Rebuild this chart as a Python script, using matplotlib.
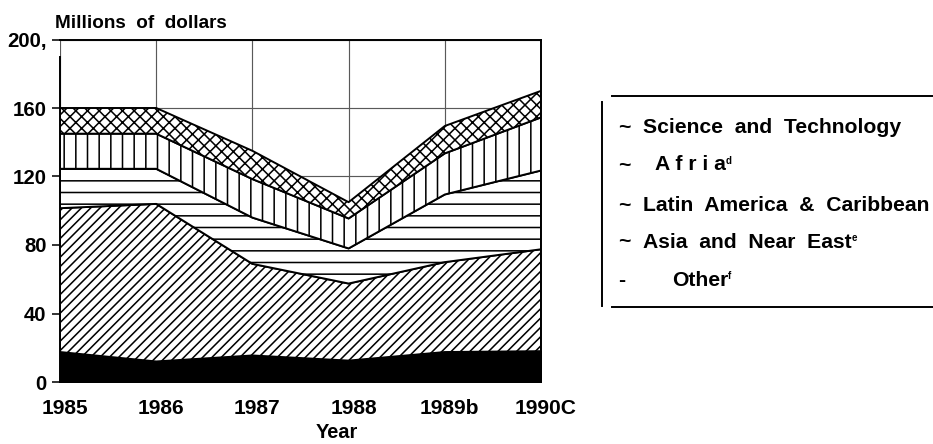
import numpy as np
import matplotlib.pyplot as plt
from matplotlib.lines import Line2D
from matplotlib.transforms import ScaledTranslation

plt.rcParams['font.family'] = ['Liberation Sans', 'DejaVu Sans']
plt.rcParams['font.weight'] = 'bold'
plt.rcParams['hatch.linewidth'] = 0.8

# data (millions of dollars)
years = [1985, 1986, 1987, 1988, 1989, 1990]
year_labels = ['1985', '1986', '1987', '1988', '1989b', '1990C']

other = [17.5, 12, 15.5, 12.5, 17.5, 18]
asia = [84, 92, 53.5, 45, 52.5, 59.5]
latin = [23, 20.5, 27, 20.5, 39.5, 46]
africa = [20.5, 20.5, 22.5, 17.5, 24, 31]
sci_tech = [15, 15, 16.5, 9.5, 16, 15.5]

y_ticks = [0, 40, 80, 120, 160, 200]
y_tick_labels = ['0', '40', '80', '120', '160', '200,']

W, H, DPI = 933, 444, 140


def fx(px):
    return px / W


def fy(py):
    return 1 - py / H


fig = plt.figure(figsize=(W / DPI, H / DPI), dpi=DPI)
ax = fig.add_axes([fx(60), fy(382), fx(541) - fx(60), fy(39.5) - fy(382)])

# stacked hatched areas, bottom to top
layers = [(other, 'black', None),
          (asia, 'white', '/////'),
          (latin, 'white', '--'),
          (africa, 'white', '||'),
          (sci_tech, 'white', 'xxxx')]
base = np.zeros(len(years))
for vals, fc, hatch in layers:
    top = base + np.array(vals)
    ax.fill_between(years, base, top, facecolor=fc, edgecolor='black',
                    hatch=hatch, linewidth=1.0, zorder=2)
    base = top

ax.set_xlim(1985, 1990)
ax.set_ylim(0, 200)
ax.set_xticks(years)
ax.set_xticklabels(year_labels)
ax.set_yticks(y_ticks)
ax.set_yticklabels(y_tick_labels)
ax.tick_params(axis='x', length=0, pad=9, labelsize=10.8)
ax.tick_params(axis='y', length=4, width=0.8, pad=3, labelsize=10.5)

# the year labels sit a little right of their grid lines
shift = ScaledTranslation(5 / DPI, 0, fig.dpi_scale_trans)
for lab in ax.get_xticklabels():
    lab.set_transform(lab.get_transform() + shift)

ax.grid(True, color='0.35', linewidth=0.6)
ax.set_axisbelow(True)
for s in ax.spines.values():
    s.set_linewidth(1.0)
ax.spines['left'].set_bounds(0, 190)

fig.text(fx(55), fy(23), 'Millions  of  dollars', fontsize=9.7,
         ha='left', va='center')
fig.text(fx(337), fy(433), 'Year', fontsize=10.3, ha='center', va='center')

# legend, drawn as plain text like the original
legend_rows = [('~', 'Science  and  Technology', 643, 127, ''),
               ('~', 'A f r i a', 655, 165, 'd'),
               ('~', 'Latin  America  &  Caribbean', 643, 205, ''),
               ('~', 'Asia  and  Near  East', 643, 242, 'e'),
               ('-', 'Other', 672, 280, 'f')]
for mark, label, lx, ly, sup in legend_rows:
    fig.text(fx(618), fy(ly), mark, fontsize=10.9, ha='left', va='center')
    t = fig.text(fx(lx), fy(ly), label, fontsize=10.9, ha='left',
                 va='center')
    if sup:
        ax.annotate(sup, xy=(1.0, 0.95), xycoords=t, fontsize=5,
                    ha='left', va='top')

fig.add_artist(Line2D([fx(612), 1], [fy(96), fy(96)], color='black',
                      lw=1.0, transform=fig.transFigure))
fig.add_artist(Line2D([fx(612), 1], [fy(306.5), fy(306.5)], color='black',
                      lw=1.0, transform=fig.transFigure))
fig.add_artist(Line2D([fx(602), fx(602)], [fy(102), fy(306)], color='black',
                      lw=1.0, transform=fig.transFigure))

fig.savefig('out.png', dpi=DPI)
